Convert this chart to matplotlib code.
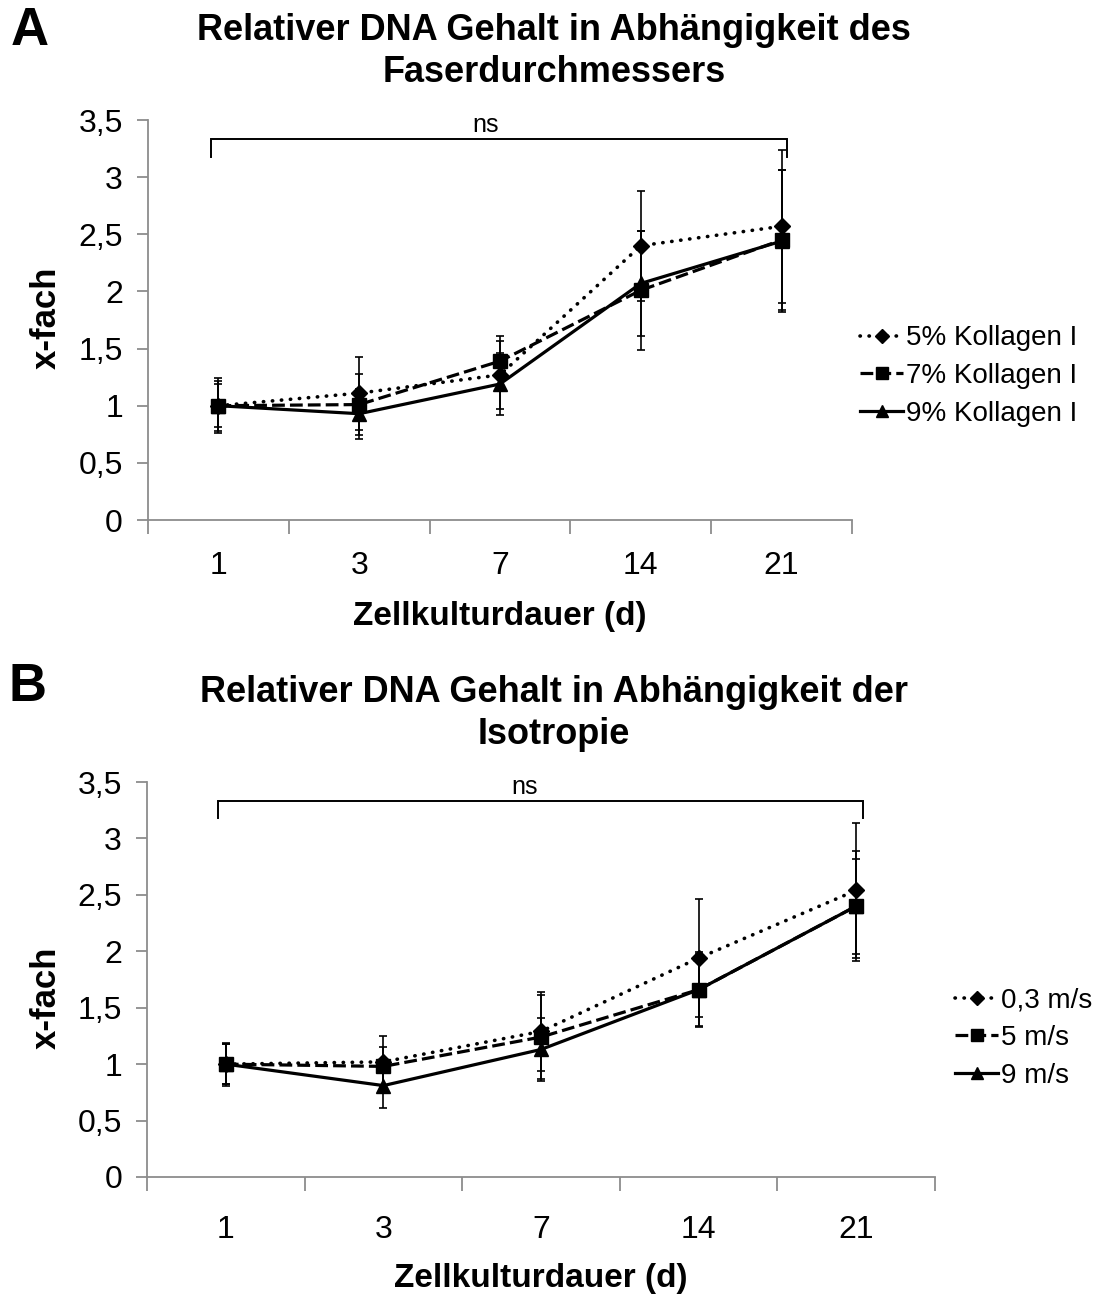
import matplotlib
matplotlib.use("Agg")
import matplotlib.pyplot as plt
from matplotlib.ticker import FixedLocator, NullFormatter

plt.rcParams['font.family'] = ['Liberation Sans', 'DejaVu Sans']

# ---------------- data ----------------
days = ["1", "3", "7", "14", "21"]
y_ticks = [0, 0.5, 1, 1.5, 2, 2.5, 3, 3.5]
y_tick_labels = ["0", "0,5", "1", "1,5", "2", "2,5", "3", "3,5"]

# Panel A: fibre diameter (collagen content)
labels_a = ["5% Kollagen I", "7% Kollagen I", "9% Kollagen I"]
a_5 = [1.00, 1.11, 1.27, 2.40, 2.57]
a_5_err = [0.24, 0.32, 0.30, 0.48, 0.67]
a_7 = [1.00, 1.01, 1.39, 2.01, 2.45]
a_7_err = [0.22, 0.27, 0.22, 0.52, 0.61]
a_9 = [1.00, 0.93, 1.19, 2.07, 2.44]
a_9_err = [0.19, 0.22, 0.27, 0.46, 0.62]

# Panel B: isotropy (collector speed)
labels_b = ["0,3 m/s", "5 m/s", "9 m/s"]
b_03 = [1.00, 1.02, 1.29, 1.94, 2.54]
b_03_err = [0.18, 0.23, 0.35, 0.52, 0.60]
b_5 = [1.00, 0.98, 1.24, 1.66, 2.40]
b_5_err = [0.19, 0.17, 0.37, 0.32, 0.49]
b_9 = [1.00, 0.81, 1.13, 1.66, 2.40]
b_9_err = [0.18, 0.20, 0.28, 0.33, 0.42]

sig_text = "ns"

W, H = 1094, 1298
fig = plt.figure(figsize=(W / 100, H / 100), dpi=100)
fig.patch.set_facecolor("white")

styles = [
    dict(marker="D", ms=8, ls=(0, (0.1, 2.4)), lw=2.6, round_caps=True),
    dict(marker="s", ms=10, ls=(0, (4, 1.6)), lw=2.3, round_caps=False),
    dict(marker="^", ms=10, ls="-", lw=2.3, round_caps=False),
]

GRAY = "#8c8c8c"


def draw_panel(ax, series, errs, labels, xpad, leg_xy):
    x = list(range(len(days)))
    handles = []
    for vals, err, lab, st in zip(series, errs, labels, styles):
        eb = ax.errorbar(x, vals, yerr=err, color="black", ecolor="black",
                         elinewidth=1.2, capsize=3, capthick=1.2,
                         marker=st["marker"], ms=st["ms"], mfc="black", mec="black",
                         ls=st["ls"], lw=st["lw"])
        line = eb[0]
        if st["round_caps"]:
            line.set_dash_capstyle("round")
        handles.append(line)
    ax.set_xlim(-0.5, len(days) - 0.5)
    ax.set_ylim(0, 3.5)
    ax.xaxis.set_major_locator(FixedLocator([i - 0.5 for i in range(len(days) + 1)]))
    ax.xaxis.set_major_formatter(NullFormatter())
    ax.xaxis.set_minor_locator(FixedLocator(x))
    ax.set_xticklabels(days, minor=True)
    ax.tick_params(axis="x", which="minor", length=0, pad=xpad, labelsize=23)
    ax.tick_params(axis="x", which="major", length=10, width=1.3, color=GRAY, direction="out")
    ax.set_yticks(y_ticks)
    ax.set_yticklabels(y_tick_labels)
    ax.tick_params(axis="y", length=8, width=1.3, color=GRAY, direction="out", pad=10, labelsize=23)
    for s in ["top", "right"]:
        ax.spines[s].set_visible(False)
    for s in ["left", "bottom"]:
        ax.spines[s].set_color(GRAY)
        ax.spines[s].set_linewidth(1.3)
    # significance bracket
    x0, x1 = -0.05, len(days) - 1 + 0.04
    ax.plot([x0, x0, x1, x1], [3.18, 3.33, 3.33, 3.18], color="black", lw=1.4,
            clip_on=False, solid_joinstyle="miter")
    ax.text((x0 + x1) / 2 - 0.1, 3.35, sig_text, ha="center", va="bottom", fontsize=18)
    # legend
    ax.legend(handles, labels, loc="center left", bbox_to_anchor=leg_xy,
              bbox_transform=fig.transFigure, frameon=False, fontsize=20,
              handlelength=1.55, handletextpad=0.1, borderpad=0, borderaxespad=0,
              labelspacing=0.42, markerscale=0.85)
    return ax


axA = fig.add_axes([148 / W, 1 - 520 / H, 704 / W, 400 / H])
draw_panel(axA, [a_5, a_7, a_9], [a_5_err, a_7_err, a_9_err], labels_a, 22,
           (860 / W, 1 - 376 / H))

axB = fig.add_axes([147 / W, 1 - 1177 / H, 788 / W, 395 / H])
draw_panel(axB, [b_03, b_5, b_9], [b_03_err, b_5_err, b_9_err], labels_b, 27,
           (955 / W, 1 - 1038 / H))

# titles
fig.text(554 / W, 1 - 30 / H, "Relativer DNA Gehalt in Abhängigkeit des", ha="center",
         va="center", fontsize=26, fontweight="bold")
fig.text(554 / W, 1 - 72 / H, "Faserdurchmessers", ha="center", va="center",
         fontsize=26, fontweight="bold")
fig.text(554 / W, 1 - 693 / H, "Relativer DNA Gehalt in Abhängigkeit der", ha="center",
         va="center", fontsize=26, fontweight="bold")
fig.text(554 / W, 1 - 735 / H, "Isotropie", ha="center", va="center",
         fontsize=26, fontweight="bold")

# panel letters
fig.text(30 / W, 1 - 31 / H, "A", ha="center", va="center", fontsize=38, fontweight="bold")
fig.text(28 / W, 1 - 687 / H, "B", ha="center", va="center", fontsize=38, fontweight="bold")

# axis labels
fig.text(46 / W, 1 - 318 / H, "x-fach", rotation=90, ha="center", va="center",
         fontsize=25, fontweight="bold")
fig.text(46 / W, 1 - 998 / H, "x-fach", rotation=90, ha="center", va="center",
         fontsize=25, fontweight="bold")
fig.text(500 / W, 1 - 616 / H, "Zellkulturdauer (d)", ha="center", va="center",
         fontsize=24, fontweight="bold")
fig.text(541 / W, 1 - 1278 / H, "Zellkulturdauer (d)", ha="center", va="center",
         fontsize=24, fontweight="bold")

fig.savefig("out.png", dpi=100, facecolor="white")
